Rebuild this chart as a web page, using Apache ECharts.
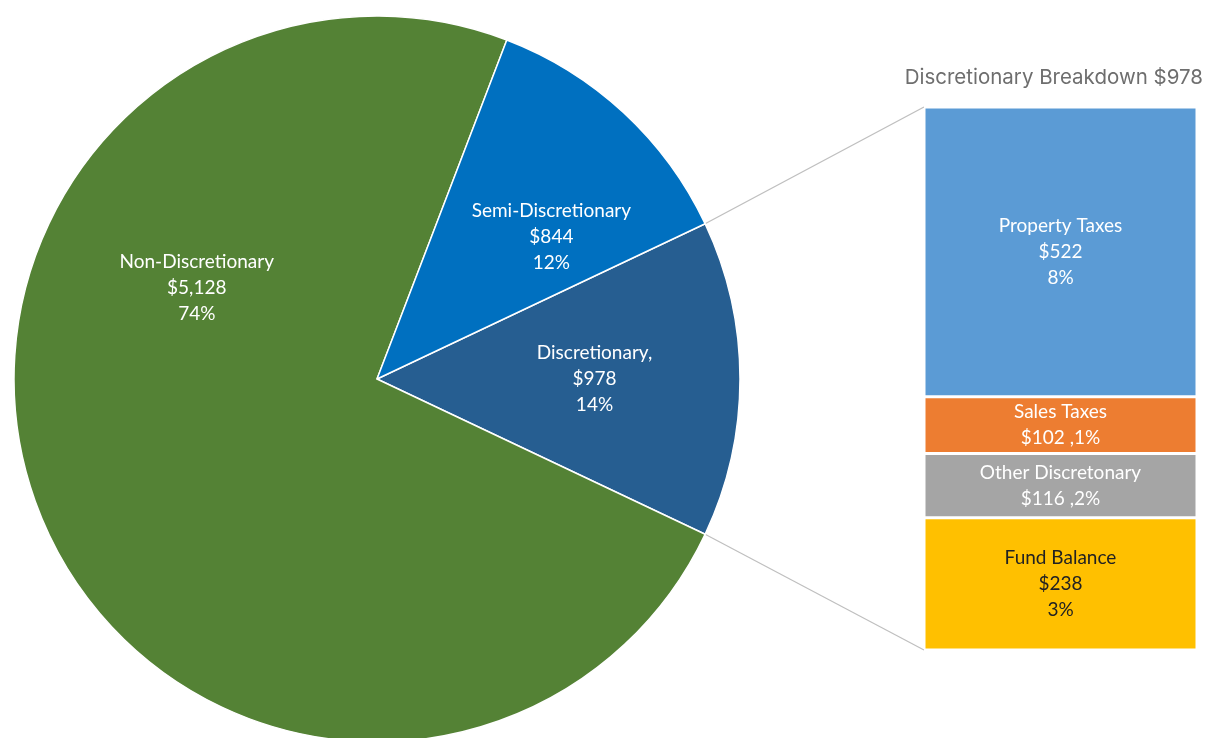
<!DOCTYPE html>
<html>
<head>
<meta charset="utf-8">
<script src="https://cdn.jsdelivr.net/npm/echarts@6/dist/echarts.min.js"></script>
<style>
html,body{margin:0;padding:0;background:#fff;}
#chart{width:1205px;height:738px;}
</style>
</head>
<body>
<div id="chart"></div>
<script>
// ---- data ----
var pieNames = ['Discretionary,', 'Non-Discretionary', 'Semi-Discretionary'];
var pieValues = [978, 5128, 844];
var pieColors = ['#265E91', '#548235', '#0070C0'];

var barNames = ['Property Taxes', 'Sales Taxes', 'Other Discretonary', 'Fund Balance'];
var barValues = [522, 102, 116, 238];
var barColors = ['#5B9BD5', '#ED7D31', '#A5A5A5', '#FFC000'];
var barTextColors = ['#ffffff', '#ffffff', '#ffffff', '#222222'];
var barCompact = [false, true, true, false];

var titleText = 'Discretionary Breakdown $978';

// ---- layout ----
var W = 1205, H = 738;
var cx = 377, cy = 379, R = 363;
var gridBox = {left: 924, right: 8, top: 107, bottom: 88};
var total = pieValues.reduce(function(a,b){return a+b;},0);
var discShare = pieValues[0] / total * 360;
var startAngle = discShare / 2;
var labelShift = [[33, 0], [-9, -160], [49, -7]];
var FONT = 'Lato, "Open Sans", sans-serif';
var FS = 19;

function money(v){ return '$' + v.toLocaleString('en-US'); }
function pct(v){ return Math.round(v / total * 100) + '%'; }

var chart = echarts.init(document.getElementById('chart'));

var barSeries = barNames.map(function(n, i){
  return {
    type: 'bar',
    name: n,
    stack: 'd',
    barWidth: '100%',
    data: [barValues[i]],
    itemStyle: {color: barColors[i], borderColor: '#fff', borderWidth: 1.5},
    label: {
      show: true, position: 'inside',
      color: barTextColors[i], fontFamily: FONT, fontSize: FS, lineHeight: 26,
      formatter: function(){
        return barCompact[i]
          ? n + '\n' + money(barValues[i]) + ' ,' + pct(barValues[i])
          : n + '\n' + money(barValues[i]) + '\n' + pct(barValues[i]);
      }
    },
    silent: true,
    animation: false
  };
});

// connector lines from the discretionary slice edges to the bar corners
var a = startAngle * Math.PI / 180;
var pTop = [cx + R * Math.cos(a), cy - R * Math.sin(a)];
var pBot = [cx + R * Math.cos(-a), cy - R * Math.sin(-a)];
var barLeft = gridBox.left, barTop = gridBox.top, barBottom = H - gridBox.bottom;

var option = {
  animation: false,
  title: {
    text: titleText,
    right: 2, top: 67, padding: 0,
    textStyle: {color: '#6e6e6e', fontFamily: 'Inter, Roboto, sans-serif', fontWeight: 'normal', fontSize: 20.5}
  },
  grid: gridBox,
  xAxis: {type: 'category', data: ['Discretionary'], show: false},
  yAxis: {type: 'value', min: 0, max: 978, inverse: true, show: false},
  graphic: [
    {type: 'line', shape: {x1: pTop[0], y1: pTop[1], x2: barLeft, y2: barTop}, style: {stroke: '#BFBFBF', lineWidth: 1.2}, z: 0},
    {type: 'line', shape: {x1: pBot[0], y1: pBot[1], x2: barLeft, y2: barBottom}, style: {stroke: '#BFBFBF', lineWidth: 1.2}, z: 0}
  ],
  series: [{
    type: 'pie',
    center: [cx, cy],
    radius: R,
    startAngle: startAngle,
    clockwise: true,
    animation: false,
    silent: true,
    itemStyle: {borderColor: '#fff', borderWidth: 1.5},
    label: {
      show: true, position: 'inside', color: '#fff',
      fontFamily: FONT, fontSize: FS, lineHeight: 26,
      formatter: function(p){ return p.name + '\n' + money(p.value) + '\n' + pct(p.value); }
    },
    labelLayout: function(p){
      var s = labelShift[p.dataIndex];
      return {dx: s[0], dy: s[1]};
    },
    data: pieNames.map(function(n, i){
      return {name: n, value: pieValues[i], itemStyle: {color: pieColors[i]}};
    })
  }].concat(barSeries)
};
chart.setOption(option);
</script>
</body>
</html>
